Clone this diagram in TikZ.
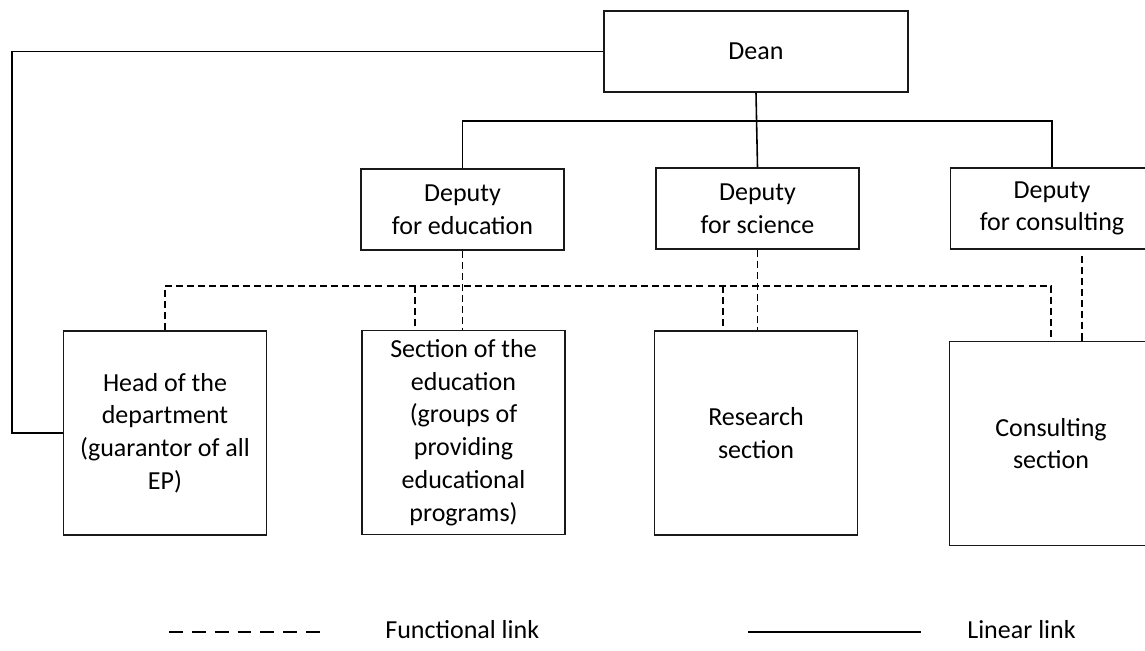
\documentclass[tikz,border=0pt]{standalone}
\usepackage{fontspec}
\setmainfont{Carlito}
\begin{document}
\begin{tikzpicture}[
        x=0.02cm, y=-0.02cm,
        % Boxes: thin black frame, sans-serif text
        box/.style={
            draw=black!90,
            line width=1pt,
            minimum width=4.06cm,
            minimum height=4.08cm,
            inner sep=0pt,
            align=center,
            font=\fontsize{14.8pt}{18.6pt}\selectfont
        },
        chief/.style={
            box,
            minimum height=1.62cm
        },
        linear/.style={
            line width=0.6pt
        },
        func/.style={
            line width=0.8pt,
            dash pattern=on 4pt off 2.3pt
        },
        legendtext/.style={
            anchor=west,
            inner sep=0pt,
            font=\fontsize{14.8pt}{18.6pt}\selectfont
        }
    ]

    \useasboundingbox (0,0) rectangle (1145,650);

    % --- Management ---
    \node[chief, minimum width=6.08cm] (dean) at (756,51.5) {Dean};
    \node[chief] (depedu) at (462.5,209.5) {Deputy\\for education};
    \node[chief] (depsci) at (757.5,208.5) {Deputy\\for science};
    \node[chief] (depcons) at (1052,208.5) {Deputy\\for consulting};

    % --- Sections ---
    \node[box] (head) at (165,433) {Head of the\\department\\(guarantor of all\\EP)};
    \node[box] (sect) at (463.5,432.5) {Section of the\\education\\(groups of\\providing\\educational\\programs)};
    \node[box] (research) at (756,433) {Research\\section};
    \node[box] (consult) at (1051,443.5) {Consulting\\section};

    % Linear links
    \draw[linear] (dean.west) -- (dean.west -| 12,0) |- (head.west);
    \draw[linear, line width=0.9pt] (dean.south) -- (depsci.north);
    \draw[linear] (depedu.north) -- (depedu.north |- 0,121) -| (depcons.north);

    % Functional links
    \draw[func] (head.north) |- (consult.north |- 0,286) -- (consult.north);
    \draw[func] (415,286) -- (sect.north -| 415,0);
    \draw[func] (depedu.south) -- (depedu.south |- sect.north);
    \draw[func] (723,286) -- (research.north -| 723,0);
    \draw[func] (depsci.south) -- (depsci.south |- research.north);
    \draw[func] (1082,256) -- (consult.north -| 1082,0);

    % --- Legend ---
    \coordinate (fa) at (169,632);
    \coordinate (fb) at (321,632);
    \draw[line width=1.1pt, dash pattern=on 7.9pt off 5.1pt] (fa) -- (fb);
    \node[legendtext] (flabel) at (385,630) {Functional link};

    \coordinate (la) at (748,632);
    \coordinate (lb) at (921,632);
    \draw[line width=1.1pt] (la) -- (lb);
    \node[legendtext] (llabel) at (967,630) {Linear link};

\end{tikzpicture}
\end{document}
